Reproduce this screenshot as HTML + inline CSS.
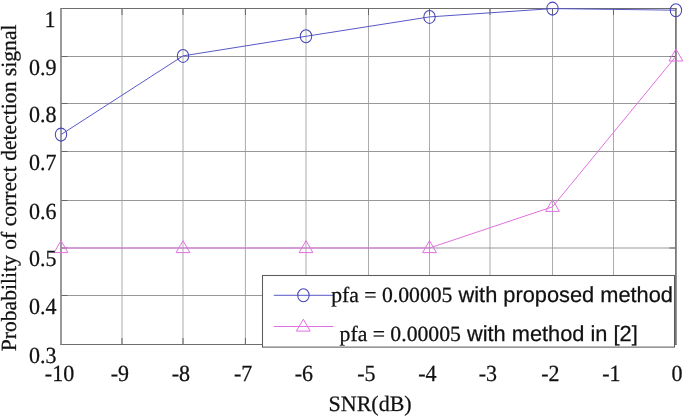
<!DOCTYPE html>
<html><head><meta charset="utf-8"><style>
html,body{margin:0;padding:0;background:#fff;width:685px;height:416px;overflow:hidden}
svg{display:block;will-change:transform}
text{text-rendering:geometricPrecision}
text{fill:#111;stroke:#111;stroke-width:0.25px}
.t{font-family:"Liberation Serif",serif;font-size:22px}
.yl{font-family:"Liberation Serif",serif;font-size:21.65px}
.lg{font-family:"Liberation Sans",sans-serif;font-size:21.8px}
.sr{font-family:"Liberation Serif",serif;font-size:21.7px}
</style></head><body>
<svg width="685" height="416" viewBox="0 0 685 416">
<line x1="122.0" y1="8.5" x2="122.0" y2="344.5" stroke="#ababab" stroke-width="1"/>
<line x1="183.0" y1="8.5" x2="183.0" y2="344.5" stroke="#ababab" stroke-width="1"/>
<line x1="245.4" y1="8.5" x2="245.4" y2="344.5" stroke="#ababab" stroke-width="1"/>
<line x1="306.0" y1="8.5" x2="306.0" y2="344.5" stroke="#ababab" stroke-width="1"/>
<line x1="368.5" y1="8.5" x2="368.5" y2="344.5" stroke="#ababab" stroke-width="1"/>
<line x1="429.5" y1="8.5" x2="429.5" y2="344.5" stroke="#ababab" stroke-width="1"/>
<line x1="490.0" y1="8.5" x2="490.0" y2="344.5" stroke="#ababab" stroke-width="1"/>
<line x1="552.5" y1="8.5" x2="552.5" y2="344.5" stroke="#ababab" stroke-width="1"/>
<line x1="613.5" y1="8.5" x2="613.5" y2="344.5" stroke="#ababab" stroke-width="1"/>
<line x1="61.0" y1="295.5" x2="675.9" y2="295.5" stroke="#979797" stroke-width="1"/>
<line x1="61.0" y1="248.0" x2="675.9" y2="248.0" stroke="#979797" stroke-width="1"/>
<line x1="61.0" y1="200.5" x2="675.9" y2="200.5" stroke="#979797" stroke-width="1"/>
<line x1="61.0" y1="151.5" x2="675.9" y2="151.5" stroke="#979797" stroke-width="1"/>
<line x1="61.0" y1="103.5" x2="675.9" y2="103.5" stroke="#979797" stroke-width="1"/>
<line x1="61.0" y1="56.5" x2="675.9" y2="56.5" stroke="#979797" stroke-width="1"/>
<line x1="122.0" y1="8.5" x2="122.0" y2="15.0" stroke="#666666" stroke-width="1"/>
<line x1="122.0" y1="344.5" x2="122.0" y2="338.0" stroke="#666666" stroke-width="1"/>
<line x1="183.0" y1="8.5" x2="183.0" y2="15.0" stroke="#666666" stroke-width="1"/>
<line x1="183.0" y1="344.5" x2="183.0" y2="338.0" stroke="#666666" stroke-width="1"/>
<line x1="245.4" y1="8.5" x2="245.4" y2="15.0" stroke="#666666" stroke-width="1"/>
<line x1="245.4" y1="344.5" x2="245.4" y2="338.0" stroke="#666666" stroke-width="1"/>
<line x1="306.0" y1="8.5" x2="306.0" y2="15.0" stroke="#666666" stroke-width="1"/>
<line x1="306.0" y1="344.5" x2="306.0" y2="338.0" stroke="#666666" stroke-width="1"/>
<line x1="368.5" y1="8.5" x2="368.5" y2="15.0" stroke="#666666" stroke-width="1"/>
<line x1="368.5" y1="344.5" x2="368.5" y2="338.0" stroke="#666666" stroke-width="1"/>
<line x1="429.5" y1="8.5" x2="429.5" y2="15.0" stroke="#666666" stroke-width="1"/>
<line x1="429.5" y1="344.5" x2="429.5" y2="338.0" stroke="#666666" stroke-width="1"/>
<line x1="490.0" y1="8.5" x2="490.0" y2="15.0" stroke="#666666" stroke-width="1"/>
<line x1="490.0" y1="344.5" x2="490.0" y2="338.0" stroke="#666666" stroke-width="1"/>
<line x1="552.5" y1="8.5" x2="552.5" y2="15.0" stroke="#666666" stroke-width="1"/>
<line x1="552.5" y1="344.5" x2="552.5" y2="338.0" stroke="#666666" stroke-width="1"/>
<line x1="613.5" y1="8.5" x2="613.5" y2="15.0" stroke="#666666" stroke-width="1"/>
<line x1="613.5" y1="344.5" x2="613.5" y2="338.0" stroke="#666666" stroke-width="1"/>
<line x1="61.0" y1="295.5" x2="67.5" y2="295.5" stroke="#666666" stroke-width="1"/>
<line x1="675.9" y1="295.5" x2="669.4" y2="295.5" stroke="#666666" stroke-width="1"/>
<line x1="61.0" y1="248.0" x2="67.5" y2="248.0" stroke="#666666" stroke-width="1"/>
<line x1="675.9" y1="248.0" x2="669.4" y2="248.0" stroke="#666666" stroke-width="1"/>
<line x1="61.0" y1="200.5" x2="67.5" y2="200.5" stroke="#666666" stroke-width="1"/>
<line x1="675.9" y1="200.5" x2="669.4" y2="200.5" stroke="#666666" stroke-width="1"/>
<line x1="61.0" y1="151.5" x2="67.5" y2="151.5" stroke="#666666" stroke-width="1"/>
<line x1="675.9" y1="151.5" x2="669.4" y2="151.5" stroke="#666666" stroke-width="1"/>
<line x1="61.0" y1="103.5" x2="67.5" y2="103.5" stroke="#666666" stroke-width="1"/>
<line x1="675.9" y1="103.5" x2="669.4" y2="103.5" stroke="#666666" stroke-width="1"/>
<line x1="61.0" y1="56.5" x2="67.5" y2="56.5" stroke="#666666" stroke-width="1"/>
<line x1="675.9" y1="56.5" x2="669.4" y2="56.5" stroke="#666666" stroke-width="1"/>
<line x1="60.3" y1="8.5" x2="676.8" y2="8.5" stroke="#6e6e6e" stroke-width="1.2"/>
<line x1="60.3" y1="344.5" x2="676.8" y2="344.5" stroke="#6e6e6e" stroke-width="1.2"/>
<line x1="61.0" y1="8.5" x2="61.0" y2="344.5" stroke="#808080" stroke-width="1.6"/>
<line x1="675.9" y1="8.5" x2="675.9" y2="344.5" stroke="#7a7a7a" stroke-width="1.8"/>
<polyline points="61.0,134.6 183.0,55.9 306.0,36.3 429.5,16.9 552.5,8.6 675.9,10.2" fill="none" stroke="#5858c8" stroke-width="1"/>
<polyline points="61.0,248.0 183.0,248.0 306.0,248.0 429.5,248.0 552.5,206.8 675.9,56.4" fill="none" stroke="#e070e0" stroke-width="1"/>
<ellipse cx="61.0" cy="134.6" rx="5.7" ry="6.5" fill="none" stroke="#4646b6" stroke-width="1.05"/>
<ellipse cx="183.0" cy="55.9" rx="5.7" ry="6.5" fill="none" stroke="#4646b6" stroke-width="1.05"/>
<ellipse cx="306.0" cy="36.3" rx="5.7" ry="6.5" fill="none" stroke="#4646b6" stroke-width="1.05"/>
<ellipse cx="429.5" cy="16.9" rx="5.7" ry="6.5" fill="none" stroke="#4646b6" stroke-width="1.05"/>
<ellipse cx="552.5" cy="8.6" rx="5.7" ry="6.5" fill="none" stroke="#4646b6" stroke-width="1.05"/>
<ellipse cx="675.9" cy="10.2" rx="5.7" ry="6.5" fill="none" stroke="#4646b6" stroke-width="1.05"/>
<polygon points="61.0,240.7 54.1,252.6 67.9,252.6" fill="none" stroke="#e070e0" stroke-width="1" stroke-linejoin="miter"/>
<polygon points="183.0,240.7 176.1,252.6 189.9,252.6" fill="none" stroke="#e070e0" stroke-width="1" stroke-linejoin="miter"/>
<polygon points="306.0,240.7 299.1,252.6 312.9,252.6" fill="none" stroke="#e070e0" stroke-width="1" stroke-linejoin="miter"/>
<polygon points="429.5,240.7 422.6,252.6 436.4,252.6" fill="none" stroke="#e070e0" stroke-width="1" stroke-linejoin="miter"/>
<polygon points="552.5,199.5 545.6,211.4 559.4,211.4" fill="none" stroke="#e070e0" stroke-width="1" stroke-linejoin="miter"/>
<polygon points="675.9,49.1 669.0,61.0 682.8,61.0" fill="none" stroke="#e070e0" stroke-width="1" stroke-linejoin="miter"/>
<text transform="translate(59.5,381.0) scale(1,1.05)" text-anchor="middle" class="t">-10</text>
<text transform="translate(119.8,381.0) scale(1,1.05)" text-anchor="middle" class="t">-9</text>
<text transform="translate(180.8,381.0) scale(1,1.05)" text-anchor="middle" class="t">-8</text>
<text transform="translate(243.2,381.0) scale(1,1.05)" text-anchor="middle" class="t">-7</text>
<text transform="translate(303.8,381.0) scale(1,1.05)" text-anchor="middle" class="t">-6</text>
<text transform="translate(366.3,381.0) scale(1,1.05)" text-anchor="middle" class="t">-5</text>
<text transform="translate(427.3,381.0) scale(1,1.05)" text-anchor="middle" class="t">-4</text>
<text transform="translate(487.8,381.0) scale(1,1.05)" text-anchor="middle" class="t">-3</text>
<text transform="translate(550.3,381.0) scale(1,1.05)" text-anchor="middle" class="t">-2</text>
<text transform="translate(611.3,381.0) scale(1,1.05)" text-anchor="middle" class="t">-1</text>
<text transform="translate(676.9,381.0) scale(1,1.05)" text-anchor="middle" class="t">0</text>
<text transform="translate(56.6,363.2) scale(1,1.05)" text-anchor="end" class="t">0.3</text>
<text transform="translate(56.6,313.6) scale(1,1.05)" text-anchor="end" class="t">0.4</text>
<text transform="translate(56.6,266.3) scale(1,1.05)" text-anchor="end" class="t">0.5</text>
<text transform="translate(56.6,219.0) scale(1,1.05)" text-anchor="end" class="t">0.6</text>
<text transform="translate(56.6,169.6) scale(1,1.05)" text-anchor="end" class="t">0.7</text>
<text transform="translate(56.6,121.9) scale(1,1.05)" text-anchor="end" class="t">0.8</text>
<text transform="translate(56.6,74.6) scale(1,1.05)" text-anchor="end" class="t">0.9</text>
<text transform="translate(55.5,26.9) scale(1,1.05)" text-anchor="end" class="t">1</text>
<text x="370.1" y="410.5" text-anchor="middle" class="t">SNR(dB)</text>
<text transform="translate(16.2,187.9) rotate(-90)" text-anchor="middle" class="yl">Probability of correct detection signal</text>
<rect x="262.5" y="275.5" width="412" height="71.6" fill="#fff" stroke="#5c5c5c" stroke-width="1.05"/>
<line x1="273.8" y1="295.3" x2="333" y2="295.3" stroke="#5858c8" stroke-width="1"/>
<ellipse cx="303.4" cy="295.3" rx="5.7" ry="6.5" fill="none" stroke="#4646b6" stroke-width="1.05"/>
<line x1="273.8" y1="326.5" x2="333.5" y2="326.5" stroke="#e070e0" stroke-width="1"/>
<polygon points="303.3,319.2 296.4,331.1 310.2,331.1" fill="none" stroke="#e070e0" stroke-width="1" stroke-linejoin="miter"/>
<text x="331.2" y="301.6" class="lg"><tspan class="sr">pfa = 0.00005</tspan> with proposed method</text>
<text x="339.6" y="341.1" class="lg"><tspan class="sr">pfa = 0.00005</tspan> with method in [2]</text>
</svg>
</body></html>
